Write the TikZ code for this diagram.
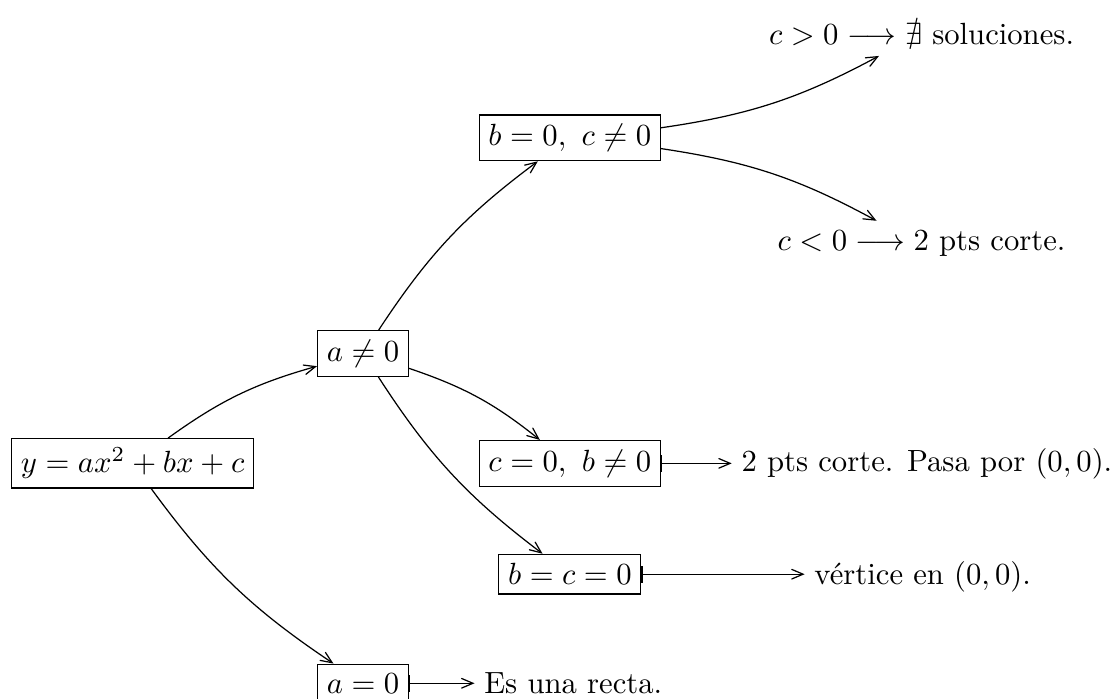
\documentclass[tikz,border=0pt]{standalone}
\usepackage{amsmath,amssymb}
\usetikzlibrary{positioning,arrows}

\begin{document}
\begin{tikzpicture}[>=angle 45,
                    caja/.style={rectangle, draw, inner sep=3pt},
                    txt/.style={inner sep=3pt}]
  \useasboundingbox (0,0) rectangle (12.8,8.01);
  % Ecuacion y casos para a
  \node[caja] (raiz) at (1.52,2.70) {$y=ax^2+bx+c$};
  \node[caja] (an0) at (4.16,3.96) {$a\neq 0$};
  \node[caja] (a0) at (4.16,0.18) {$a=0$};

  % Casos para b y c
  \node[caja] (b0) at (6.53,6.43) {$b=0,\ c\neq 0$};
  \node[caja] (c0) at (6.53,2.70) {$c=0,\ b\neq 0$};
  \node[caja] (bc0) at (6.53,1.43) {$b=c=0$};

  % Resultados
  \node[txt] (cpos) at (10.56,7.61) {$c>0 \longrightarrow \nexists$ soluciones.};
  \node[txt] (cneg) at (10.56,5.22) {$c<0 \longrightarrow 2$ pts corte.};
  \node[txt, base right=0.81cm of c0] (pasa) {2 pts corte. Pasa por $(0,0)$.};
  \node[txt, base right=1.87cm of bc0] (vert) {v\'ertice en $(0,0)$.};
  \node[txt, base right=0.75cm of a0] (recta) {Es una recta.};

  % Ramas
  \draw[->] (raiz) to[bend left=10] (an0);
  \draw[->] (raiz) to[bend right=10] (a0);
  \draw[->] (an0) to[bend left=10] (b0);
  \draw[->] (an0) to[bend left=10] (c0);
  \draw[->] (an0) to[bend right=10] (bc0);
  \draw[->] (b0) to[bend right=10] (cpos);
  \draw[->] (b0) to[bend left=10] (cneg);

  % Flechas a los resultados
  \draw[|->] (c0.east) -- (c0.east -| pasa.west);
  \draw[|->] (bc0.east) -- (bc0.east -| vert.west);
  \draw[|->] (a0.east) -- (a0.east -| recta.west);
\end{tikzpicture}
\end{document}
